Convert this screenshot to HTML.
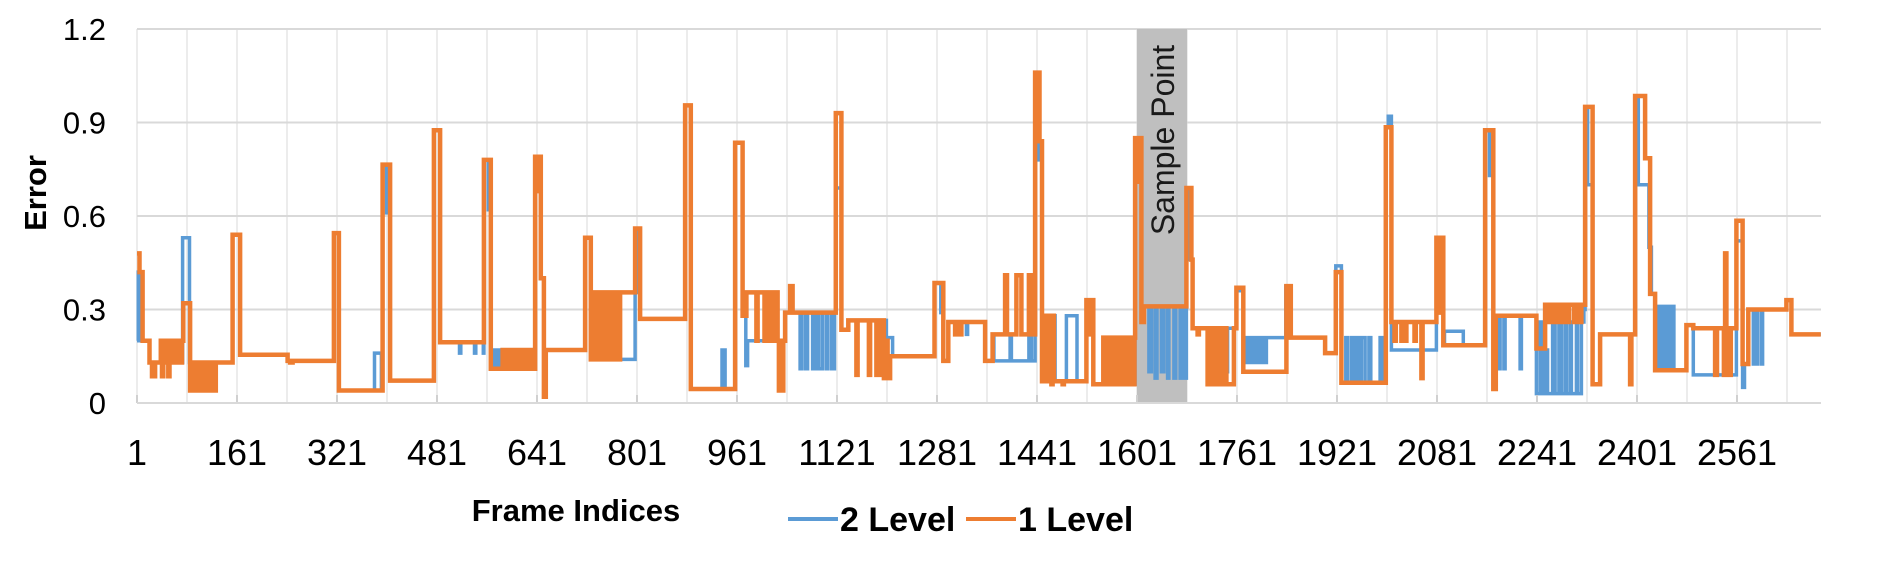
<!DOCTYPE html>
<html><head><meta charset="utf-8"><style>
html,body{margin:0;padding:0;background:#fff;width:1882px;height:562px;overflow:hidden}
svg{display:block;font-family:"Liberation Sans",sans-serif}
</style></head><body>
<svg id="chart" width="1882" height="562" viewBox="0 0 1882 562" xmlns="http://www.w3.org/2000/svg">
<g id="grid"></g>
<rect id="sample" fill="#bfbfbf"></rect>
<text id="sampleText" font-size="32" fill="#1a1a1a" text-anchor="middle">Sample Point</text>
<g id="series"></g>
<g id="axes"></g>
<text x="0" y="0" transform="translate(46,193) rotate(-90)" font-size="31" font-weight="bold" text-anchor="middle">Error</text>
<text x="576" y="521" font-size="31" font-weight="bold" text-anchor="middle">Frame Indices</text>
<g>
<g>
<line x1="788" y1="519" x2="838" y2="519" stroke="#5B9BD5" stroke-width="4"/>
<text x="840" y="531" font-size="34" font-weight="bold">2 Level</text></g>
<g>
<line x1="966" y1="519" x2="1016" y2="519" stroke="#ED7D31" stroke-width="4"/>
<text x="1018" y="531" font-size="34" font-weight="bold">1 Level</text></g>
</g>
</svg>
<script>
const yTicks = [0, 0.3, 0.6, 0.9, 1.2];
const yTickLabels = ["0", "0.3", "0.6", "0.9", "1.2"];
const xTickLabels = ["1","161","321","481","641","801","961","1121","1281","1441","1601","1761","1921","2081","2241","2401","2561"];
const xDomain = [1, 2695];
const sampleRange = [1601, 1681];
const orangeFrames = [1,5,10,21,25,30,39,41,43,46,48,51,53,58,60,64,67,71,73,75,86,90,92,95,97,101,103,108,110,114,116,121,123,127,154,166,242,246,250,316,324,394,406,476,486,556,567,586,590,594,600,603,610,612,618,620,626,628,634,638,642,644,647,652,655,718,727,729,733,736,739,742,746,748,752,755,758,761,765,768,772,774,798,806,878,887,958,970,976,992,994,1005,1008,1012,1016,1018,1022,1026,1028,1030,1033,1035,1038,1046,1050,1119,1128,1139,1152,1154,1172,1174,1184,1186,1190,1193,1196,1200,1202,1206,1277,1291,1299,1310,1312,1318,1320,1358,1370,1390,1393,1408,1416,1428,1434,1438,1445,1449,1455,1458,1462,1464,1466,1468,1482,1484,1520,1524,1528,1531,1547,1551,1553,1556,1558,1562,1564,1568,1570,1575,1577,1582,1584,1589,1591,1595,1597,1598,1602,1604,1608,1612,1680,1688,1690,1698,1700,1714,1716,1720,1722,1728,1730,1734,1740,1744,1756,1760,1771,1840,1847,1902,1919,1928,1999,2008,2013,2015,2024,2026,2030,2032,2045,2047,2056,2058,2080,2084,2087,2091,2158,2171,2175,2240,2254,2258,2260,2265,2267,2272,2274,2280,2283,2290,2292,2300,2303,2310,2312,2318,2330,2342,2390,2392,2398,2414,2422,2430,2480,2491,2526,2529,2540,2542,2544,2547,2549,2551,2560,2570,2579,2640,2648,2695];
const orangeValues = [0.48,0.42,0.2,0.13,0.086,0.13,0.2,0.086,0.2,0.13,0.2,0.086,0.2,0.13,0.2,0.13,0.2,0.13,0.2,0.32,0.04,0.13,0.04,0.13,0.04,0.13,0.04,0.13,0.04,0.13,0.04,0.13,0.04,0.13,0.54,0.155,0.135,0.13,0.135,0.545,0.04,0.765,0.072,0.875,0.195,0.78,0.11,0.17,0.11,0.17,0.11,0.17,0.11,0.17,0.11,0.17,0.11,0.17,0.11,0.79,0.68,0.79,0.4,0.02,0.17,0.53,0.14,0.355,0.14,0.355,0.14,0.355,0.14,0.355,0.14,0.355,0.14,0.355,0.14,0.355,0.14,0.355,0.56,0.27,0.955,0.045,0.835,0.28,0.355,0.2,0.355,0.2,0.355,0.2,0.355,0.2,0.355,0.2,0.04,0.2,0.04,0.2,0.29,0.375,0.29,0.93,0.235,0.265,0.09,0.265,0.09,0.265,0.09,0.265,0.09,0.265,0.08,0.2,0.08,0.15,0.385,0.135,0.26,0.22,0.26,0.22,0.26,0.135,0.22,0.41,0.22,0.41,0.22,0.41,0.22,1.06,0.84,0.07,0.28,0.07,0.28,0.06,0.28,0.07,0.06,0.07,0.33,0.22,0.33,0.06,0.21,0.06,0.21,0.06,0.21,0.06,0.21,0.06,0.21,0.06,0.21,0.06,0.21,0.06,0.21,0.06,0.21,0.85,0.71,0.85,0.26,0.31,0.69,0.46,0.24,0.22,0.24,0.06,0.24,0.06,0.24,0.06,0.24,0.06,0.24,0.06,0.24,0.37,0.1,0.375,0.21,0.16,0.42,0.065,0.885,0.26,0.2,0.26,0.2,0.26,0.2,0.26,0.2,0.26,0.08,0.26,0.53,0.29,0.53,0.185,0.875,0.045,0.28,0.175,0.315,0.26,0.315,0.26,0.315,0.26,0.315,0.26,0.315,0.26,0.315,0.26,0.315,0.26,0.315,0.95,0.06,0.22,0.06,0.22,0.985,0.785,0.35,0.105,0.25,0.24,0.09,0.24,0.09,0.48,0.09,0.24,0.09,0.24,0.585,0.125,0.3,0.33,0.22,0.22];
const blueFrames = [1,3,8,21,39,44,48,52,56,62,66,70,74,85,154,166,242,246,250,316,324,381,392,394,400,403,406,476,486,517,519,541,543,555,556,563,567,572,574,578,580,584,586,638,647,652,655,718,727,729,733,736,739,742,746,748,752,755,758,798,800,806,878,887,937,942,958,970,975,978,1038,1046,1050,1062,1064,1070,1074,1082,1087,1092,1098,1104,1106,1112,1117,1119,1128,1139,1200,1210,1277,1287,1291,1299,1328,1330,1358,1370,1372,1398,1400,1428,1432,1438,1443,1449,1454,1470,1488,1505,1520,1531,1598,1608,1612,1620,1624,1630,1633,1640,1644,1650,1652,1660,1663,1670,1673,1678,1680,1684,1690,1714,1716,1722,1724,1730,1736,1744,1746,1760,1771,1772,1776,1780,1784,1788,1792,1796,1800,1804,1808,1839,1847,1902,1919,1928,1935,1938,1944,1948,1952,1956,1960,1966,1972,1975,1990,1994,1999,2003,2008,2080,2091,2093,2123,2158,2165,2171,2175,2180,2182,2188,2190,2214,2216,2240,2246,2249,2254,2258,2266,2270,2276,2280,2286,2288,2294,2296,2304,2306,2312,2316,2318,2322,2330,2342,2398,2403,2420,2424,2430,2434,2436,2440,2443,2447,2452,2457,2460,2480,2491,2560,2570,2573,2579,2587,2589,2592,2594,2600,2602,2640,2648,2695];
const blueValues = [0.2,0.42,0.2,0.13,0.2,0.13,0.2,0.13,0.2,0.13,0.2,0.13,0.53,0.13,0.54,0.155,0.135,0.13,0.135,0.545,0.04,0.16,0.04,0.765,0.61,0.765,0.072,0.875,0.195,0.16,0.195,0.16,0.195,0.16,0.78,0.62,0.11,0.17,0.11,0.17,0.11,0.17,0.11,0.79,0.4,0.02,0.17,0.53,0.14,0.355,0.14,0.355,0.14,0.355,0.14,0.355,0.14,0.355,0.14,0.355,0.56,0.27,0.955,0.045,0.17,0.045,0.835,0.28,0.12,0.2,0.29,0.375,0.29,0.11,0.29,0.11,0.29,0.11,0.29,0.11,0.29,0.11,0.29,0.11,0.29,0.69,0.235,0.265,0.21,0.15,0.385,0.29,0.135,0.26,0.22,0.26,0.135,0.22,0.135,0.22,0.135,0.22,0.135,1.0,0.78,0.07,0.28,0.07,0.28,0.07,0.33,0.06,0.85,0.26,0.31,0.1,0.31,0.08,0.31,0.1,0.31,0.08,0.31,0.08,0.31,0.08,0.31,0.08,0.69,0.46,0.24,0.1,0.24,0.1,0.24,0.1,0.24,0.1,0.24,0.36,0.21,0.13,0.21,0.13,0.21,0.13,0.21,0.13,0.21,0.13,0.21,0.375,0.21,0.16,0.44,0.065,0.21,0.065,0.21,0.065,0.21,0.065,0.21,0.065,0.21,0.065,0.21,0.065,0.885,0.92,0.17,0.53,0.185,0.23,0.185,0.875,0.73,0.045,0.28,0.11,0.28,0.11,0.28,0.11,0.28,0.03,0.26,0.03,0.17,0.03,0.26,0.03,0.26,0.03,0.26,0.03,0.26,0.03,0.26,0.03,0.26,0.3,0.95,0.7,0.06,0.22,0.985,0.7,0.5,0.35,0.105,0.31,0.105,0.31,0.105,0.31,0.105,0.31,0.105,0.25,0.09,0.52,0.05,0.125,0.3,0.125,0.3,0.125,0.3,0.125,0.3,0.33,0.22,0.22];

const NS = "http://www.w3.org/2000/svg";
const PL = 137, PR = 1821, PT = 29, PB = 403;
function xScale(f){ return PL + (f - xDomain[0]) * 0.625; }
function yScale(v){ return PB - v / 1.2 * (PB - PT); }
function mk(tag, attrs, parent){ const e = document.createElementNS(NS, tag); for (const k in attrs) e.setAttribute(k, attrs[k]); parent.appendChild(e); return e; }

const grid = document.getElementById('grid');
const axes = document.getElementById('axes');
for (let f = 1; xScale(f) <= PR; f += 80) {
  const l = mk('line', {x1: xScale(f), x2: xScale(f), y1: PT, y2: PB, stroke: '#ececec', 'stroke-width': 2}, grid);
  
  
}
yTicks.forEach((v, i) => {
  const l = mk('line', {x1: PL, x2: PR, y1: yScale(v), y2: yScale(v), stroke: '#d9d9d9', 'stroke-width': 2}, grid);
  
  
  const t = mk('text', {x: 106, y: yScale(v) + 11, 'font-size': 31, 'text-anchor': 'end', fill: '#000'}, axes);
  t.textContent = yTickLabels[i];
  
  
});
xTickLabels.forEach(lbl => {
  const f = +lbl;
  const tk = mk('line', {x1: xScale(f), x2: xScale(f), y1: PB - 8, y2: PB, stroke: '#d0d0d0', 'stroke-width': 2}, axes);
  
  
  const t = mk('text', {x: xScale(f), y: 465, 'font-size': 36, 'text-anchor': 'middle', fill: '#000'}, axes);
  t.textContent = lbl;
  
  
});
const base = mk('line', {x1: PL, x2: PR, y1: PB, y2: PB, stroke: '#d9d9d9', 'stroke-width': 2}, axes);



const sr = document.getElementById('sample');
sr.setAttribute('x', xScale(sampleRange[0]));
sr.setAttribute('y', PT);
sr.setAttribute('width', xScale(sampleRange[1]) - xScale(sampleRange[0]));
sr.setAttribute('height', PB - PT);
const st = document.getElementById('sampleText');
const scx = (xScale(sampleRange[0]) + xScale(sampleRange[1])) / 2 + 12;
st.setAttribute('transform', 'translate(' + scx + ',140) rotate(-90)');

function stepPoints(frames, values){
  const pts = [];
  for (let i = 0; i < frames.length - 1; i++) {
    pts.push(xScale(frames[i]).toFixed(1) + ',' + yScale(values[i]).toFixed(1));
    pts.push(xScale(frames[i + 1]).toFixed(1) + ',' + yScale(values[i]).toFixed(1));
  }
  return pts.join(' ');
}
const series = document.getElementById('series');
const bl = mk('polyline', {points: stepPoints(blueFrames, blueValues), fill: 'none', stroke: '#5B9BD5', 'stroke-width': 3.5, 'stroke-linejoin': 'miter'}, series);


const ol = mk('polyline', {points: stepPoints(orangeFrames, orangeValues), fill: 'none', stroke: '#ED7D31', 'stroke-width': 4.5, 'stroke-linejoin': 'miter'}, series);


</script>
</body></html>
